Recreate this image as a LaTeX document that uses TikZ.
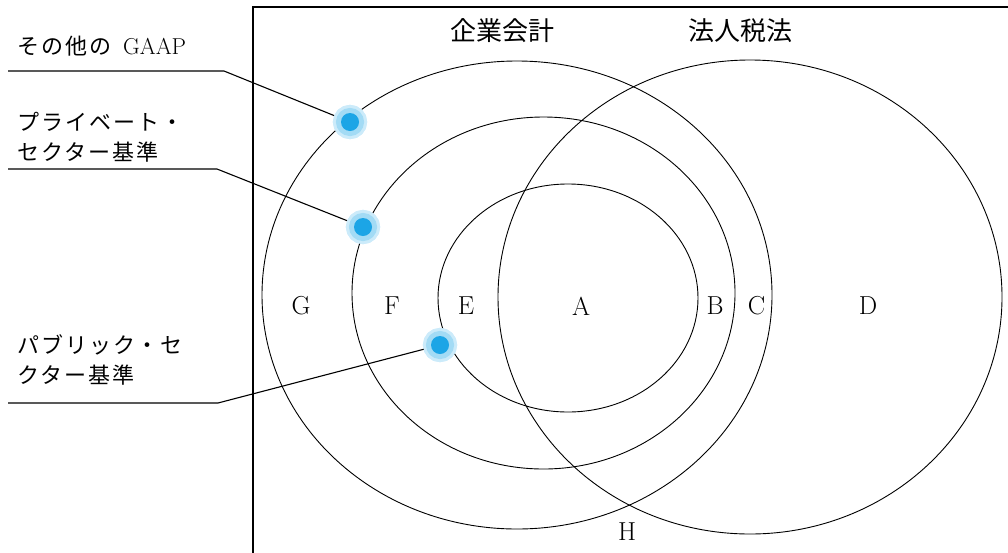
\documentclass[tikz,border=0pt]{standalone}
\usepackage{fontspec}
\newfontfamily\jp[LetterSpace=9]{Noto Sans CJK JP}
\newfontfamily\jpt{Noto Sans CJK JP}
\definecolor{dotcore}{HTML}{1CA5E6}
\definecolor{dothalo}{HTML}{A3DBF5}
\tikzset{
  ring/.style={line width=0.9pt, black},
  frameline/.style={line width=2pt, black},
  leader/.style={line width=1.1pt, black},
  bluedot/.style={circle, minimum size=18pt, inner sep=0pt, outer sep=7pt, fill=dotcore,
    preaction={draw=dothalo!55, line width=16pt},
    preaction={draw=dothalo, line width=10pt}},
  region/.style={inner sep=0pt, font=\fontsize{26}{30}\selectfont},
  title/.style={inner sep=0pt, font=\jpt\fontsize{26}{30}\selectfont},
  sidelabel/.style={inner sep=0pt, anchor=west, align=left, font=\jp\fontsize{22}{30}\selectfont}
}
\begin{document}
\begin{tikzpicture}[x=1pt,y=-1pt]
\useasboundingbox (0,0) rectangle (1008,552);
% frame
\coordinate (fb) at (253,553);
\coordinate (ftl) at (253,7);
\coordinate (fr) at (1009,7);
\draw[frameline] (fb) -- (ftl) -- (fr);
% circles
\draw[ring] (517,295) ellipse [x radius=255, y radius=234];
\draw[ring] (750,297) ellipse [x radius=252, y radius=237];
\draw[ring] (543.5,293) ellipse [x radius=191.5, y radius=176];
\draw[ring] (568,298) ellipse [x radius=130, y radius=114];
% titles
\node[title] (t1) at (502,31) {企業会計};
\node[title] (t2) at (740,31) {法人税法};
% region letters
\node[region] (G) at (301,306) {G};
\node[region] (F) at (392,306) {F};
\node[region] (E) at (466,306) {E};
\node[region] (A) at (581,306) {A};
\node[region] (B) at (715,306) {B};
\node[region] (C) at (756.5,306) {C};
\node[region] (D) at (868,306) {D};
\node[region] (H) at (627,532) {H};
% side labels
\node[sidelabel] (s1) at (17,46) {その他の\hspace{12pt}{\rmfamily\fontsize{23}{30}\selectfont GAAP}};
\node[sidelabel] (s2) at (17,137) {プライベート・\\セクター基準};
\node[sidelabel] (s3) at (17,359.5) {パブリック・セ\\クター基準};
% dots
\node[bluedot] (d1) at (350,122) {};
\node[bluedot] (d2) at (363,227) {};
\node[bluedot] (d3) at (440,345) {};
% leaders
\coordinate (l1s) at (8,71);
\coordinate (l1b) at (224,71);
\coordinate (l2s) at (8,169);
\coordinate (l2b) at (217,169);
\coordinate (l3s) at (8,403);
\coordinate (l3b) at (218,403);
\draw[leader] (l1s) -- (l1b) -- (d1);
\draw[leader] (l2s) -- (l2b) -- (d2);
\draw[leader] (l3s) -- (l3b) -- (d3);
% redraw dots on top of leaders
\node[bluedot] at (350,122) {};
\node[bluedot] at (363,227) {};
\node[bluedot] at (440,345) {};
\end{tikzpicture}
\end{document}
